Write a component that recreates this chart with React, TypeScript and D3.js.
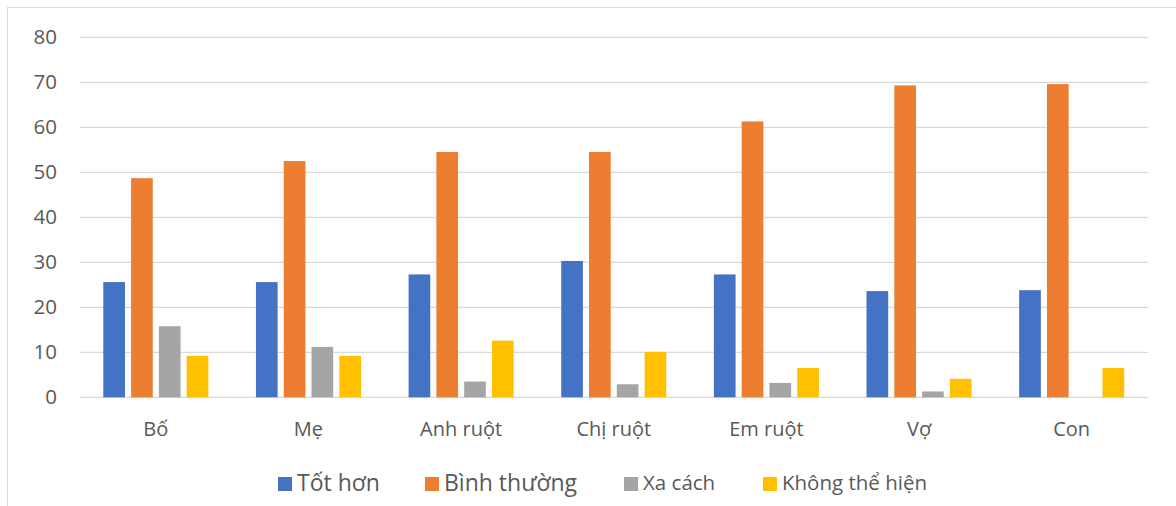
import React from "react";
import * as d3 from "d3";

const categories = ["Bố", "Mẹ", "Anh ruột", "Chị ruột", "Em ruột", "Vợ", "Con"];
const seriesNames = ["Tốt hơn", "Bình thường", "Xa cách", "Không thể hiện"];
const totHon = [25.6, 25.6, 27.3, 30.3, 27.3, 23.6, 23.8];
const binhThuong = [48.7, 52.5, 54.5, 54.5, 61.3, 69.3, 69.6];
const xaCach = [15.8, 11.2, 3.5, 2.9, 3.2, 1.3, 0];
const khongTheHien = [9.2, 9.2, 12.6, 10.1, 6.5, 4.1, 6.5];
const yTicks = [0, 10, 20, 30, 40, 50, 60, 70, 80];

const seriesValues = [totHon, binhThuong, xaCach, khongTheHien];
const colors = ["#4472C4", "#ED7D31", "#A5A5A5", "#FFC000"];

export default function App() {
  const W = 1176, H = 506;
  const left = 79.5, right = 1148, top = 37.3, bottom = 397.3;
  const x0 = d3.scaleBand<string>().domain(categories).range([left, right]).padding(0);
  const x1 = d3.scaleBand<string>().domain(seriesNames).range([0, x0.bandwidth()]).paddingInner(0.22).paddingOuter(0.857);
  const y = d3.scaleLinear().domain([0, 80]).range([bottom, top]);
  const font = "'Open Sans', 'Noto Sans', sans-serif";
  const legend = [
    { sx: 278, tx: 297, size: 23 },
    { sx: 425, tx: 444, size: 23 },
    { sx: 624, tx: 643, size: 20.5 },
    { sx: 763, tx: 782, size: 20.5 },
  ];
  return (
    <svg width={W} height={H} style={{ position: "absolute", left: 0, top: 0, background: "#fff" }}>
      <rect x={7.5} y={7.5} width={1300} height={700} fill="#fff" stroke="#d9d9d9" strokeWidth={1} />
      {yTicks.map((t) => (
        <g key={t}>
          <line x1={left} x2={right} y1={y(t)} y2={y(t)} stroke="#d9d9d9" strokeWidth={1.3} />
          <text x={57} y={y(t)} dy="0.35em" textAnchor="end" fontFamily={font} fontSize={20.5} fill="#595959">
            {t}
          </text>
        </g>
      ))}
      {categories.map((c, i) => (
        <g key={c} transform={`translate(${x0(c)},0)`}>
          {seriesNames.map((s, j) => {
            const v = seriesValues[j][i];
            if (v <= 0) return null;
            return (
              <rect
                key={s}
                x={x1(s)}
                y={y(v)}
                width={x1.bandwidth()}
                height={y(0) - y(v)}
                fill={colors[j]}
              />
            );
          })}
          <text x={x0.bandwidth() / 2} y={429} dy="0.35em" textAnchor="middle" fontFamily={font} fontSize={20} fill="#595959">
            {c}
          </text>
        </g>
      ))}
      {seriesNames.map((s, j) => (
        <g key={s}>
          <rect x={legend[j].sx} y={477} width={14} height={14} fill={colors[j]} />
          <text x={legend[j].tx} y={483} dy="0.35em" fontFamily={font} fontSize={legend[j].size} fill="#595959">
            {s}
          </text>
        </g>
      ))}
    </svg>
  );
}
